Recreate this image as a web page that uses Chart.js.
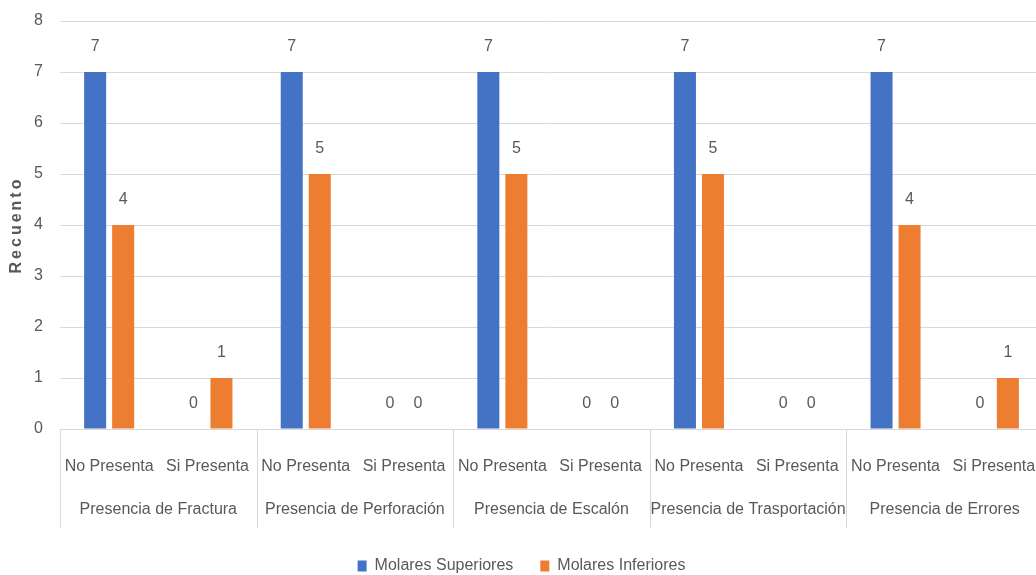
<!DOCTYPE html>
<html>
<head>
<meta charset="utf-8">
<script src="https://cdn.jsdelivr.net/npm/chart.js@4/dist/chart.umd.min.js"></script>
<style>
  html, body { margin: 0; padding: 0; background: #ffffff; overflow: hidden; }
  #c { display: block; }
</style>
</head>
<body>
<canvas id="c" width="1043" height="575" style="width:1043px;height:575px"></canvas>
<script>
const categories = ["No Presenta", "Si Presenta", "No Presenta", "Si Presenta", "No Presenta", "Si Presenta", "No Presenta", "Si Presenta", "No Presenta", "Si Presenta"];
const groups = ["Presencia de Fractura", "Presencia de Perforación", "Presencia de Escalón", "Presencia de Trasportación", "Presencia de Errores"];
const superiores = [7, 0, 7, 0, 7, 0, 7, 0, 7, 0];
const inferiores = [4, 1, 5, 0, 5, 0, 5, 0, 4, 1];
const yTicks = [0, 1, 2, 3, 4, 5, 6, 7, 8];
const yTitle = "Recuento";

const FONT = "'Liberation Sans', Arial, sans-serif";
const TXT = "#595959";
const GRID = "#d9d9d9";

const dataLabels = {
  id: "dataLabels",
  afterDatasetsDraw(chart) {
    const ctx = chart.ctx;
    ctx.save();
    ctx.font = "16px " + FONT;
    ctx.fillStyle = TXT;
    ctx.textAlign = "center";
    ctx.textBaseline = "middle";
    chart.data.datasets.forEach((ds, di) => {
      const meta = chart.getDatasetMeta(di);
      meta.data.forEach((el, i) => {
        ctx.fillText(String(ds.data[i]), el.x, el.y - 25);
      });
    });
    ctx.restore();
  }
};

const groupAxis = {
  id: "groupAxis",
  afterDraw(chart) {
    const ctx = chart.ctx;
    const x = chart.scales.x;
    const top = x.top;
    const half = (x.getPixelForValue(1) - x.getPixelForValue(0)) / 2;
    ctx.save();
    ctx.strokeStyle = GRID;
    ctx.lineWidth = 1;
    for (let g = 0; g <= groups.length; g++) {
      const px = Math.round(x.getPixelForValue(g * 2) - half) + 0.5;
      ctx.beginPath();
      ctx.moveTo(px, top);
      ctx.lineTo(px, top + 99);
      ctx.stroke();
    }
    ctx.font = "16px " + FONT;
    ctx.fillStyle = TXT;
    ctx.textAlign = "center";
    ctx.textBaseline = "middle";
    groups.forEach((g, i) => {
      const cx = (x.getPixelForValue(i * 2) + x.getPixelForValue(i * 2 + 1)) / 2;
      ctx.fillText(g, cx, top + 81);
    });
    const y = chart.scales.y;
    ctx.save();
    ctx.translate(17, (y.top + y.bottom) / 2);
    ctx.rotate(-Math.PI / 2);
    ctx.font = "bold 16px " + FONT;
    try { ctx.letterSpacing = "3px"; } catch (e) {}
    ctx.fillStyle = TXT;
    ctx.textAlign = "center";
    ctx.textBaseline = "middle";
    ctx.fillText(yTitle, 0, 0);
    ctx.restore();
    ctx.restore();
  }
};

new Chart(document.getElementById("c"), {
  type: "bar",
  data: {
    labels: categories,
    datasets: [
      { label: "Molares Superiores", data: superiores, backgroundColor: "#4472C4", categoryPercentage: 0.57, barPercentage: 0.786 },
      { label: "Molares Inferiores", data: inferiores, backgroundColor: "#ED7D31", categoryPercentage: 0.57, barPercentage: 0.786 }
    ]
  },
  options: {
    responsive: false,
    animation: false,
    layout: { padding: { top: 21, right: 0, left: 0, bottom: -9 } },
    plugins: {
      legend: {
        position: "bottom",
        align: "center",
        labels: {
          boxWidth: 9, boxHeight: 11, padding: 27,
          color: TXT,
          font: { family: FONT, size: 16 }
        }
      },
      tooltip: { enabled: false }
    },
    scales: {
      x: {
        grid: { display: true, drawOnChartArea: false, drawTicks: true, tickLength: 28, color: "rgba(0,0,0,0)" },
        border: { display: true, color: GRID },
        ticks: { color: TXT, font: { family: FONT, size: 16 }, padding: 0, maxRotation: 0, autoSkip: false },
        afterFit(scale) { scale.height = 102; }
      },
      y: {
        min: 0, max: 8,
        afterBuildTicks(scale) { scale.ticks = yTicks.map(v => ({ value: v })); },
        grid: { color: GRID, lineWidth: 1, drawTicks: true, tickLength: 17, tickColor: "rgba(0,0,0,0)" },
        border: { display: false },
        ticks: { color: TXT, font: { family: FONT, size: 16 }, padding: 0 },
        afterFit(scale) { scale.width = 60; }
      }
    }
  },
  plugins: [dataLabels, groupAxis]
});
</script>
</body>
</html>
